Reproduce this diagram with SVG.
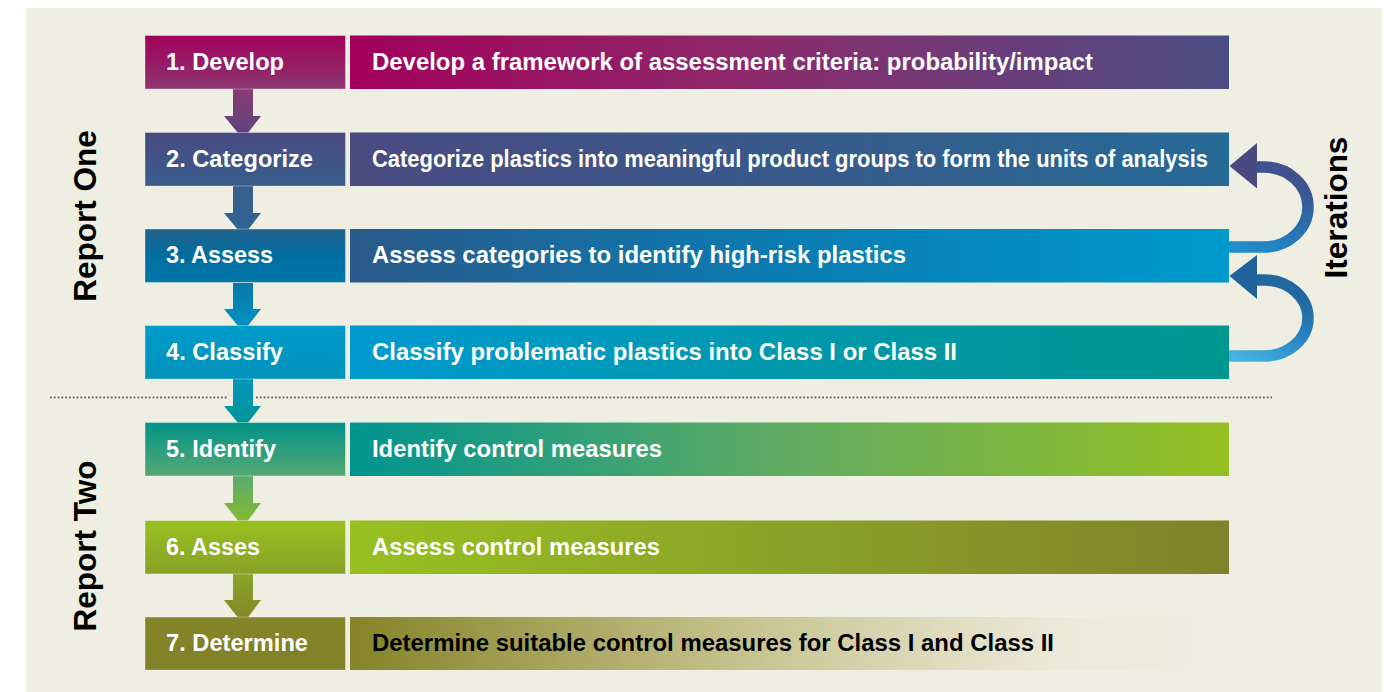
<svg xmlns="http://www.w3.org/2000/svg" width="1395" height="692" viewBox="0 0 1395 692">
<defs>
<style>
.lt{font-family:"Liberation Sans",Arial,Helvetica,sans-serif;font-weight:bold;font-size:23px;fill:#ffffff}
.rt{font-family:"Liberation Sans",Arial,Helvetica,sans-serif;font-weight:bold;font-size:23.5px;fill:#ffffff}
.side{font-family:"Liberation Sans",Arial,Helvetica,sans-serif;font-weight:bold;font-size:31.5px;fill:#000000}
.lbox{stroke:#ffffff;stroke-opacity:0.35;stroke-width:1}
</style>
<linearGradient id="l1" x1="0" y1="0" x2="0" y2="1"><stop offset="0" stop-color="#a2005a"/><stop offset="1" stop-color="#8c3670"/></linearGradient>
<linearGradient id="l2" x1="0" y1="0" x2="0" y2="1"><stop offset="0" stop-color="#4a4a80"/><stop offset="1" stop-color="#385e8c"/></linearGradient>
<linearGradient id="l3" x1="0" y1="0" x2="0" y2="1"><stop offset="0" stop-color="#24628f"/><stop offset="0.5" stop-color="#006e9e"/><stop offset="1" stop-color="#0078aa"/></linearGradient>
<linearGradient id="l4" x1="0" y1="0" x2="0" y2="1"><stop offset="0" stop-color="#009ccc"/><stop offset="1" stop-color="#0092ba"/></linearGradient>
<linearGradient id="l5" x1="0" y1="0" x2="0" y2="1"><stop offset="0" stop-color="#009488"/><stop offset="1" stop-color="#56a872"/></linearGradient>
<linearGradient id="l6" x1="0" y1="0" x2="0" y2="1"><stop offset="0" stop-color="#98c020"/><stop offset="1" stop-color="#88a228"/></linearGradient>
<linearGradient id="l7" x1="0" y1="0" x2="0" y2="1"><stop offset="0" stop-color="#858529"/><stop offset="1" stop-color="#808228"/></linearGradient>
<linearGradient id="r1" x1="0" y1="0" x2="1" y2="0"><stop offset="0" stop-color="#a2005a"/><stop offset="0.45" stop-color="#8e2a6c"/><stop offset="1" stop-color="#4a4e84"/></linearGradient>
<linearGradient id="r2" x1="0" y1="0" x2="1" y2="0"><stop offset="0" stop-color="#4a4a80"/><stop offset="1" stop-color="#266a96"/></linearGradient>
<linearGradient id="r3" x1="0" y1="0" x2="1" y2="0"><stop offset="0" stop-color="#2a5a8a"/><stop offset="0.5" stop-color="#0a7cb2"/><stop offset="1" stop-color="#009acc"/></linearGradient>
<linearGradient id="r4" x1="0" y1="0" x2="1" y2="0"><stop offset="0" stop-color="#009ad0"/><stop offset="0.5" stop-color="#0098ac"/><stop offset="1" stop-color="#009690"/></linearGradient>
<linearGradient id="r5" x1="0" y1="0" x2="1" y2="0"><stop offset="0" stop-color="#009490"/><stop offset="0.5" stop-color="#62ac62"/><stop offset="1" stop-color="#96c020"/></linearGradient>
<linearGradient id="r6" x1="0" y1="0" x2="1" y2="0"><stop offset="0" stop-color="#98c020"/><stop offset="0.5" stop-color="#8aa228"/><stop offset="1" stop-color="#80822a"/></linearGradient>
<linearGradient id="r7" x1="0" y1="0" x2="1" y2="0"><stop offset="0" stop-color="#858428"/><stop offset="0.45" stop-color="#c7c38f"/><stop offset="0.8" stop-color="#ebe9da"/><stop offset="1" stop-color="#efeee3"/></linearGradient>
<linearGradient id="a1" gradientUnits="userSpaceOnUse" x1="0" y1="89" x2="0" y2="139"><stop offset="0" stop-color="#8a3a72"/><stop offset="1" stop-color="#5a4680"/></linearGradient>
<linearGradient id="a2" gradientUnits="userSpaceOnUse" x1="0" y1="186" x2="0" y2="236"><stop offset="0" stop-color="#3a5e8c"/><stop offset="1" stop-color="#2e6494"/></linearGradient>
<linearGradient id="a3" gradientUnits="userSpaceOnUse" x1="0" y1="283" x2="0" y2="333"><stop offset="0" stop-color="#0a78aa"/><stop offset="1" stop-color="#0096c6"/></linearGradient>
<linearGradient id="a4" gradientUnits="userSpaceOnUse" x1="0" y1="379" x2="0" y2="429"><stop offset="0" stop-color="#0096bc"/><stop offset="1" stop-color="#009590"/></linearGradient>
<linearGradient id="a5" gradientUnits="userSpaceOnUse" x1="0" y1="476" x2="0" y2="527"><stop offset="0" stop-color="#5aaa6c"/><stop offset="1" stop-color="#8cbc2c"/></linearGradient>
<linearGradient id="a6" gradientUnits="userSpaceOnUse" x1="0" y1="574" x2="0" y2="624"><stop offset="0" stop-color="#8aa428"/><stop offset="1" stop-color="#828428"/></linearGradient>
<linearGradient id="it1" gradientUnits="userSpaceOnUse" x1="1229" y1="247" x2="1260" y2="167"><stop offset="0" stop-color="#1e90cc"/><stop offset="0.5" stop-color="#2a70b0"/><stop offset="1" stop-color="#3e5290"/></linearGradient>
<linearGradient id="it2" gradientUnits="userSpaceOnUse" x1="1229" y1="356" x2="1260" y2="280"><stop offset="0" stop-color="#48b4e4"/><stop offset="0.5" stop-color="#2a86c4"/><stop offset="1" stop-color="#22689e"/></linearGradient>
</defs>
<rect x="26" y="8" width="1356" height="684" fill="#efeee3"/>
<line x1="50" y1="397.5" x2="228" y2="397.5" stroke="#666666" stroke-width="1.8" stroke-dasharray="1.8 2"/>
<line x1="256" y1="397.5" x2="1272" y2="397.5" stroke="#666666" stroke-width="1.8" stroke-dasharray="1.8 2"/>
<g id="connectors">
<path d="M233,89 H253 V116 H261 L243,139 L224,116 H233 Z" fill="url(#a1)"/>
<path d="M233,186 H253 V213 H261 L243,236 L224,213 H233 Z" fill="url(#a2)"/>
<path d="M233,283 H253 V309 H261 L243,332 L224,309 H233 Z" fill="url(#a3)"/>
<path d="M233,379 H253 V406 H261 L243,429 L224,406 H233 Z" fill="url(#a4)"/>
<path d="M233,476 H253 V503 H261 L243,527 L224,503 H233 Z" fill="url(#a5)"/>
<path d="M233,574 H253 V600 H261 L243,624 L224,600 H233 Z" fill="url(#a6)"/>
<g id="iter1">
<path d="M1229,247 H1264 A44 40 0 0 0 1264,167 H1252" fill="none" stroke="url(#it1)" stroke-width="11.5"/>
<polygon points="1229.5,166 1257,143 1257,188.5" fill="#4a4a80"/>
</g>
<g id="iter2">
<path d="M1229,356 H1264 A44 38 0 0 0 1264,280 H1252" fill="none" stroke="url(#it2)" stroke-width="11.5"/>
<polygon points="1229.5,276 1257,255 1257,299" fill="#22629a"/>
</g>
</g>
<g id="step1"><rect class="lbox" x="145" y="35.5" width="200.5" height="53.5" fill="url(#l1)"/><text class="lt" x="166" y="69.5" textLength="118" lengthAdjust="spacingAndGlyphs">1. Develop</text>
<rect x="350" y="35.5" width="879" height="53.5" fill="url(#r1)"/><text class="rt" x="372" y="69.5" textLength="721" lengthAdjust="spacingAndGlyphs">Develop a framework of assessment criteria: probability/impact</text></g>
<g id="step2"><rect class="lbox" x="145" y="132.5" width="200.5" height="53.5" fill="url(#l2)"/><text class="lt" x="166" y="166.5" textLength="147" lengthAdjust="spacingAndGlyphs">2. Categorize</text>
<rect x="350" y="132.5" width="879" height="53.5" fill="url(#r2)"/><text class="rt" x="372" y="166.5" textLength="836" lengthAdjust="spacingAndGlyphs">Categorize plastics into meaningful product groups to form the units of analysis</text></g>
<g id="step3"><rect class="lbox" x="145" y="229" width="200.5" height="53.5" fill="url(#l3)"/><text class="lt" x="166" y="263" textLength="107" lengthAdjust="spacingAndGlyphs">3. Assess</text>
<rect x="350" y="229" width="879" height="53.5" fill="url(#r3)"/><text class="rt" x="372" y="263" textLength="534" lengthAdjust="spacingAndGlyphs">Assess categories to identify high-risk plastics</text></g>
<g id="step4"><rect class="lbox" x="145" y="325.5" width="200.5" height="53.5" fill="url(#l4)"/><text class="lt" x="166" y="359.5" textLength="117" lengthAdjust="spacingAndGlyphs">4. Classify</text>
<rect x="350" y="325.5" width="879" height="53.5" fill="url(#r4)"/><text class="rt" x="372" y="359.5" textLength="585" lengthAdjust="spacingAndGlyphs">Classify problematic plastics into Class I or Class II</text></g>
<g id="step5"><rect class="lbox" x="145" y="422.5" width="200.5" height="53.5" fill="url(#l5)"/><text class="lt" x="166" y="456.5" textLength="110" lengthAdjust="spacingAndGlyphs">5. Identify</text>
<rect x="350" y="422.5" width="879" height="53.5" fill="url(#r5)"/><text class="rt" x="372" y="456.5" textLength="290" lengthAdjust="spacingAndGlyphs">Identify control measures</text></g>
<g id="step6"><rect class="lbox" x="145" y="520.5" width="200.5" height="53.5" fill="url(#l6)"/><text class="lt" x="166" y="554.5" textLength="94" lengthAdjust="spacingAndGlyphs">6. Asses</text>
<rect x="350" y="520.5" width="879" height="53.5" fill="url(#r6)"/><text class="rt" x="372" y="554.5" textLength="288" lengthAdjust="spacingAndGlyphs">Assess control measures</text></g>
<g id="step7"><rect class="lbox" x="145" y="617" width="200.5" height="53" fill="url(#l7)"/><text class="lt" x="166" y="651" textLength="142" lengthAdjust="spacingAndGlyphs">7. Determine</text>
<rect x="350" y="617" width="879" height="53" fill="url(#r7)"/><text class="rt" x="372" y="651" textLength="682" lengthAdjust="spacingAndGlyphs" style="fill:#000000">Determine suitable control measures for Class I and Class II</text></g>
<g id="labels">
<text class="side" text-anchor="middle" transform="translate(96,216) rotate(-90)">Report One</text>
<text class="side" text-anchor="middle" transform="translate(96,546) rotate(-90)">Report Two</text>
<text class="side" text-anchor="middle" transform="translate(1347,207.5) rotate(-90)">Iterations</text>
</g>
</svg>
